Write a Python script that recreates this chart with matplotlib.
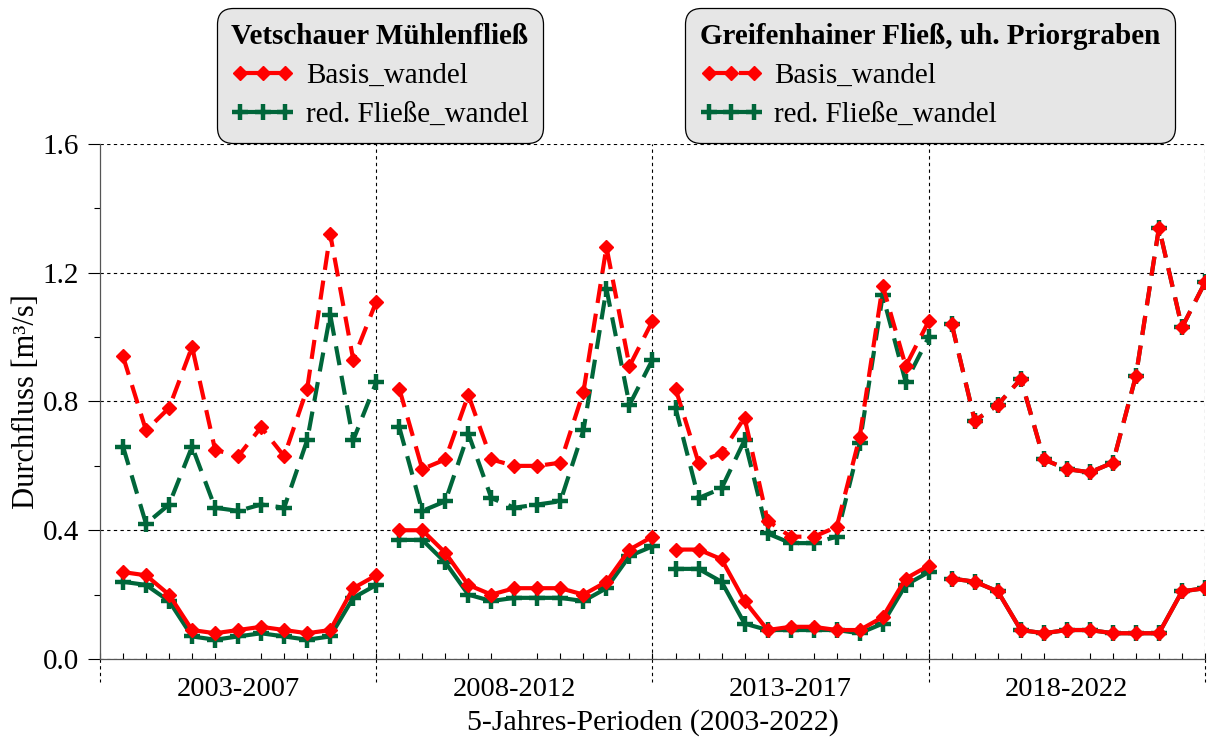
import numpy as np
import matplotlib
matplotlib.use("Agg")
import matplotlib.pyplot as plt
from matplotlib.ticker import MultipleLocator, FixedLocator, FormatStrFormatter
from matplotlib.lines import Line2D
import matplotlib.transforms as mtransforms

plt.rcParams['font.family'] = ['Liberation Serif', 'DejaVu Serif']

periods = ['2003-2007', '2008-2012', '2013-2017', '2018-2022']
months_per_period = 12

# Vetschauer Mühlenfließ (solid)
vet_basis = [
    0.27, 0.26, 0.20, 0.09, 0.08, 0.09, 0.10, 0.09, 0.08, 0.09, 0.22, 0.26,
    0.40, 0.40, 0.33, 0.23, 0.20, 0.22, 0.22, 0.22, 0.20, 0.24, 0.34, 0.38,
    0.34, 0.34, 0.31, 0.18, 0.09, 0.10, 0.10, 0.09, 0.09, 0.13, 0.25, 0.29,
    0.25, 0.24, 0.21, 0.09, 0.08, 0.09, 0.09, 0.08, 0.08, 0.08, 0.21, 0.22,
]
vet_red = [
    0.24, 0.23, 0.18, 0.07, 0.06, 0.07, 0.08, 0.07, 0.06, 0.07, 0.19, 0.23,
    0.37, 0.37, 0.30, 0.20, 0.18, 0.19, 0.19, 0.19, 0.18, 0.22, 0.32, 0.35,
    0.28, 0.28, 0.24, 0.11, 0.09, 0.09, 0.09, 0.09, 0.08, 0.11, 0.23, 0.27,
    0.25, 0.24, 0.21, 0.09, 0.08, 0.09, 0.09, 0.08, 0.08, 0.08, 0.21, 0.22,
]
# Greifenhainer Fließ, uh. Priorgraben (dashed)
grf_basis = [
    0.94, 0.71, 0.78, 0.97, 0.65, 0.63, 0.72, 0.63, 0.84, 1.32, 0.93, 1.11,
    0.84, 0.59, 0.62, 0.82, 0.62, 0.60, 0.60, 0.61, 0.83, 1.28, 0.91, 1.05,
    0.84, 0.61, 0.64, 0.75, 0.43, 0.38, 0.38, 0.41, 0.69, 1.16, 0.91, 1.05,
    1.04, 0.74, 0.79, 0.87, 0.62, 0.59, 0.58, 0.61, 0.88, 1.34, 1.03, 1.17,
]
grf_red = [
    0.66, 0.42, 0.48, 0.66, 0.47, 0.46, 0.48, 0.47, 0.68, 1.07, 0.68, 0.86,
    0.72, 0.46, 0.49, 0.70, 0.50, 0.47, 0.48, 0.49, 0.71, 1.15, 0.79, 0.93,
    0.78, 0.50, 0.53, 0.68, 0.39, 0.36, 0.36, 0.38, 0.67, 1.13, 0.86, 1.00,
    1.04, 0.74, 0.79, 0.87, 0.62, 0.59, 0.58, 0.61, 0.88, 1.34, 1.03, 1.17,
]

RED = '#ff0000'
GREEN = '#00663a'
LW = 3.0
DASH = [4.6, 2.6]
FS = 21

fig = plt.figure(figsize=(12.1, 7.4), dpi=100)
ax = fig.add_axes([100/1210, 81/740, 1105/1210, 515/740])

n_total = months_per_period * len(periods)
red_style = dict(color=RED, lw=LW, marker='D', ms=7.5, mec=RED, mfc=RED)
green_style = dict(color=GREEN, lw=LW, marker='+', ms=11, mew=3.2, mec=GREEN)

for p in range(len(periods)):
    x = np.arange(1, months_per_period + 1) + p * months_per_period
    s = slice(p * months_per_period, (p + 1) * months_per_period)
    ax.plot(x, vet_red[s], **green_style, zorder=3)
    ax.plot(x, vet_basis[s], **red_style, zorder=4)
    ax.plot(x, grf_red[s], **green_style, dashes=DASH, zorder=3)
    ax.plot(x, grf_basis[s], **red_style, dashes=DASH, zorder=4)

ax.set_xlim(0, n_total)
ax.set_ylim(0, 1.6)

# y axis
ax.yaxis.set_major_locator(MultipleLocator(0.4))
ax.yaxis.set_minor_locator(MultipleLocator(0.2))
ax.yaxis.set_major_formatter(FormatStrFormatter('%.1f'))
ax.tick_params(axis='y', which='major', direction='out', length=9, width=0.8, labelsize=FS, pad=6)
ax.tick_params(axis='y', which='minor', direction='out', length=4, width=0.8)
ax.set_ylabel('Durchfluss [m³/s]', fontsize=22, labelpad=1)

# x axis
centers = [p * months_per_period + months_per_period / 2 for p in range(len(periods))]
ax.xaxis.set_major_locator(FixedLocator(centers))
ax.set_xticklabels(periods)
ax.xaxis.set_minor_locator(MultipleLocator(1))
ax.tick_params(axis='x', which='major', length=0, labelsize=FS - 0.5, pad=13)
ax.tick_params(axis='x', which='minor', direction='in', length=4, width=0.8)
ax.set_xlabel('5-Jahres-Perioden (2003-2022)', fontsize=FS + 0.5, labelpad=5)

# spines and grid
for sp in ['top', 'right']:
    ax.spines[sp].set_visible(False)
for sp in ['left', 'bottom']:
    ax.spines[sp].set_linewidth(0.9)
    ax.spines[sp].set_color('#555555')
ax.yaxis.grid(True, which='major', linestyle=(0, (3, 3)), color='black', lw=0.8)
ax.set_axisbelow(True)
boundaries = [p * months_per_period for p in range(len(periods) + 1)]
trans = mtransforms.blended_transform_factory(ax.transData, ax.transAxes)
for b in boundaries:
    if 0 < b:
        ax.axvline(b, color='black', lw=0.8, linestyle=(0, (3, 3)), zorder=1)
    ax.plot([b, b], [0, -0.045], transform=trans, color='black', lw=0.8,
            linestyle=(0, (3, 3)), clip_on=False)

# legends
def handles(dashed):
    extra = dict(dashes=DASH) if dashed else {}
    return [Line2D([], [], **red_style, **extra), Line2D([], [], **green_style, **extra)]

labels = ['Basis_wandel', 'red. Fließe_wandel']
common = dict(loc='upper center', bbox_transform=fig.transFigure, fancybox=True,
              facecolor='#e6e6e6', edgecolor='black', framealpha=1, fontsize=FS,
              numpoints=3, handlelength=2.15, handletextpad=0.4, labelspacing=0.45,
              borderpad=0.5, borderaxespad=0, alignment='left',
              title_fontproperties={'weight': 'bold', 'size': FS})
leg1 = ax.legend(handles(False), labels, title='Vetschauer Mühlenfließ',
                 bbox_to_anchor=(380/1210, 1 - 8/740), **common)
ax.add_artist(leg1)
leg2 = ax.legend(handles(True), labels, title='Greifenhainer Fließ, uh. Priorgraben',
                 bbox_to_anchor=(930/1210, 1 - 8/740), **common)
for lg in (leg1, leg2):
    fr = lg.get_frame()
    fr.set_linewidth(0.9)
    fr.set_boxstyle('round,pad=0,rounding_size=0.55')

fig.savefig('out.png', dpi=100)
